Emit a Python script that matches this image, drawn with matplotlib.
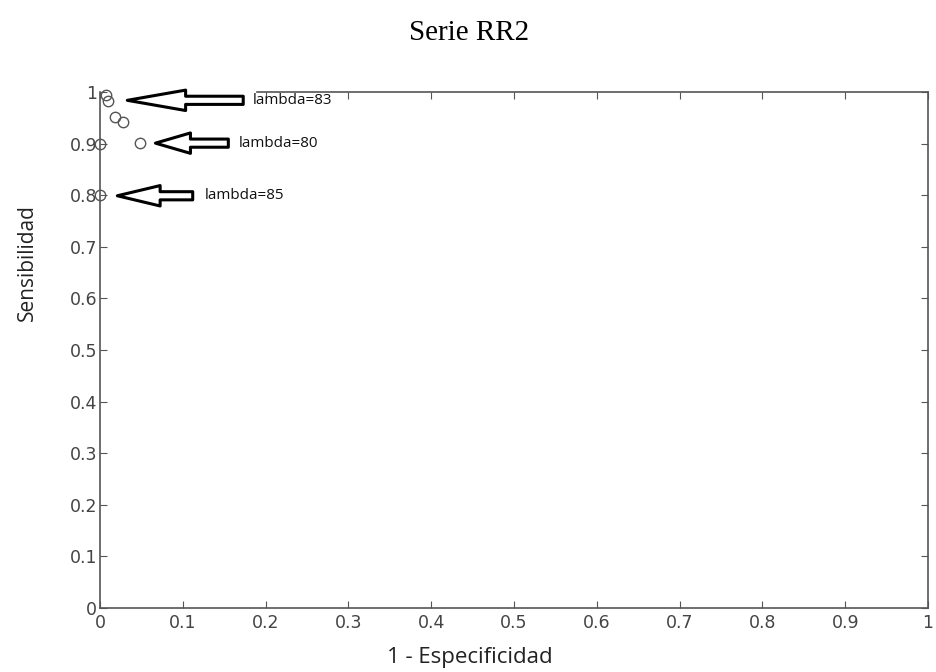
import matplotlib
matplotlib.use('Agg')
import matplotlib.pyplot as plt

# roc points (1 - especificidad, sensibilidad)
fpr = [0.007, 0.01, 0.018, 0.028, 0.0, 0.048, 0.0]
tpr = [0.995, 0.982, 0.951, 0.942, 0.9, 0.901, 0.8]

# annotations: label, arrow head (x, y), arrow tail x, head length
labels = ['lambda=83', 'lambda=80', 'lambda=85']
head_x = [0.033, 0.067, 0.021]
head_y = [0.984, 0.901, 0.799]
tail_x = [0.173, 0.155, 0.112]
text_x = [0.184, 0.167, 0.126]
head_len = [3.0, 1.8, 2.2]

ticks = [0, 0.1, 0.2, 0.3, 0.4, 0.5, 0.6, 0.7, 0.8, 0.9, 1]
tick_labels = ['0', '0.1', '0.2', '0.3', '0.4', '0.5', '0.6', '0.7', '0.8', '0.9', '1']

fig = plt.figure(figsize=(9.36, 6.72), dpi=100)
ax = fig.add_axes([0.1068, 0.0952, 0.8847, 0.7678])

ax.plot(fpr, tpr, 'o', mfc='none', mec='#555555', ms=7.5, mew=1, clip_on=False, zorder=3)

for i in range(len(labels)):
    ax.annotate('', xy=(head_x[i], head_y[i]), xytext=(tail_x[i], head_y[i]),
                arrowprops=dict(arrowstyle='simple,head_length=%s,head_width=1.05,tail_width=0.42' % head_len[i],
                                fc='white', ec='black', lw=2.2, shrinkA=0, shrinkB=0,
                                mutation_scale=14),
                annotation_clip=False)
    ax.text(text_x[i], head_y[i], labels[i], fontsize=11, family='Open Sans',
            va='center', ha='left', color='#111111')

ax.set_xlim(0, 1)
ax.set_ylim(0, 1)
ax.set_xticks(ticks)
ax.set_xticklabels(tick_labels)
ax.set_yticks(ticks)
ax.set_yticklabels(tick_labels)
ax.tick_params(direction='in', length=5, top=True, right=True, colors='#555555',
               labelsize=12.5, labelcolor='#444444')
ax.tick_params(axis='y', pad=2)
ax.tick_params(axis='x', pad=4)
for s in ax.spines.values():
    s.set_color('#555555')
    s.set_linewidth(1.2)
ax.spines['top'].set_bounds(0.19, 1)

ax.set_xlabel('1 - Especificidad', fontsize=16, family='Open Sans', color='#222222')
ax.xaxis.set_label_coords(0.447, -0.076)
ax.set_ylabel('Sensibilidad', fontsize=15, family='Open Sans', color='#222222')
ax.yaxis.set_label_coords(-0.075, 0.67)

fig.text(0.501, 0.951, 'Serie RR2', ha='center', va='center', fontsize=21,
         family='Liberation Serif', color='black')

plt.savefig('out.png', dpi=100)
